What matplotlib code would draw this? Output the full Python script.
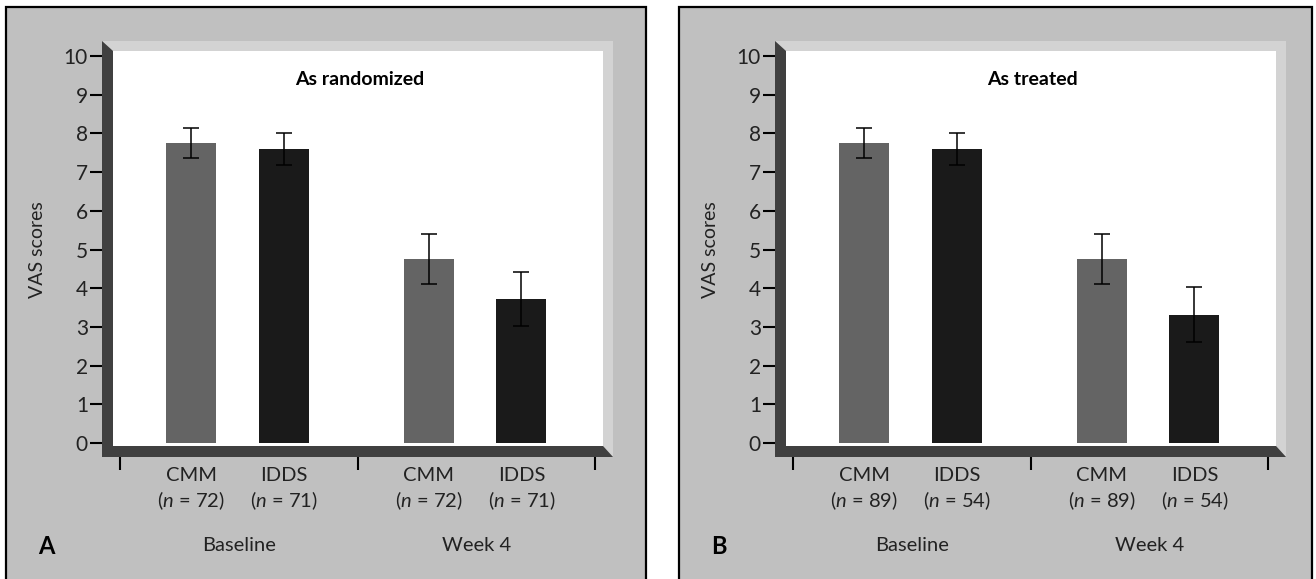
import matplotlib.pyplot as plt
from matplotlib.patches import Polygon, Rectangle

W, H = 1316, 579
DPI = 100

plt.rcParams["font.family"] = ["Lato", "DejaVu Sans"]
plt.rcParams["mathtext.fontset"] = "custom"
plt.rcParams["mathtext.rm"] = "Lato"
plt.rcParams["mathtext.it"] = "Lato:italic"

groups = ["Baseline", "Week 4"]
treatments = ["CMM", "IDDS"]
panel_letters = ["A", "B"]
panel_titles = ["As randomized", "As treated"]
n_per_arm = [[72, 71], [89, 54]]

# mean VAS score per time point (Baseline, Week 4)
randomized_cmm = [7.75, 4.75]
randomized_cmm_err = [0.38, 0.65]
randomized_idds = [7.6, 3.72]
randomized_idds_err = [0.42, 0.70]
treated_cmm = [7.75, 4.75]
treated_cmm_err = [0.38, 0.65]
treated_idds = [7.6, 3.32]
treated_idds_err = [0.42, 0.70]

yticks = list(range(0, 11))

CMM_COLOR = "#646464"
IDDS_COLOR = "#1a1a1a"
BG = "#c0c0c0"
LIGHT = "#d3d3d3"
DARK = "#404040"


def fig_xy(x, y):
    return (x / W, 1 - y / H)


def add_poly(fig, pts, color, dx):
    poly = Polygon([fig_xy(x + dx, y) for x, y in pts], closed=True,
                   transform=fig.transFigure, facecolor=color, edgecolor="none",
                   zorder=-1)
    fig.patches.append(poly)


def draw_panel(fig, dx, letter, title, cmm, cmm_err, idds, idds_err, ns):
    # panel frame
    fx0, fy0 = 6 + dx, 7
    fx1 = min(646 + dx, W - 4)
    frame = Rectangle(fig_xy(fx0, 600), (fx1 - fx0) / W, (600 - fy0) / H,
                      transform=fig.transFigure, facecolor=BG, edgecolor="black",
                      linewidth=1.6, zorder=-2)
    fig.patches.append(frame)

    # pseudo 3d box around the plot area
    add_poly(fig, [(102, 41), (613, 41), (613, 457), (603, 446), (603, 51), (113, 51)], LIGHT, dx)
    add_poly(fig, [(102, 41), (113, 51), (113, 446), (603, 446), (613, 457), (102, 457)], DARK, dx)
    add_poly(fig, [(113, 51), (603, 51), (603, 446), (113, 446)], "white", dx)

    left, bottom = fig_xy(120 + dx, 443)
    ax = fig.add_axes([left, bottom, 475 / W, 387 / H])
    ax.set_facecolor("none")
    ax.set_xlim(0, 2)
    ax.set_ylim(0, 10)

    base = [0, 1]
    offsets = [0.3, 0.69]
    width = 0.21
    ekw = dict(elinewidth=1.1, capthick=1.1, ecolor="black")
    ax.bar([b + offsets[0] for b in base], cmm, width, yerr=cmm_err, color=CMM_COLOR,
           capsize=5.8, error_kw=ekw, zorder=2)
    ax.bar([b + offsets[1] for b in base], idds, width, yerr=idds_err, color=IDDS_COLOR,
           capsize=5.8, error_kw=ekw, zorder=2)

    for side in ["top", "right"]:
        ax.spines[side].set_visible(False)
    ax.spines["left"].set_position(("outward", 18 * 72 / DPI))
    ax.spines["bottom"].set_position(("outward", 14 * 72 / DPI))
    ax.spines["left"].set_color("none")
    ax.spines["bottom"].set_color("none")

    ax.set_yticks(yticks)
    ax.tick_params(axis="y", length=12 * 72 / DPI, width=1.5, color="black",
                   labelsize=15, pad=1.5, labelcolor="#222222")

    ax.set_xticks([0, 1, 2])
    ax.set_xticklabels([])
    ax.tick_params(axis="x", which="major", length=13 * 72 / DPI, width=1.5, color="black")
    label_pos = [b + o for b in base for o in offsets]
    labels = [f"{t}\n($n$ = {n})" for _ in base for t, n in zip(treatments, ns)]
    ax.set_xticks(label_pos, minor=True)
    ax.set_xticklabels(labels, minor=True)
    ax.tick_params(axis="x", which="minor", length=0, labelsize=14.5, pad=7,
                   labelcolor="#222222")
    for lab in ax.get_xticklabels(minor=True):
        lab.set_linespacing(1.3)

    for b, g in zip(base, groups):
        ax.text(b + 0.5, -0.265, g, transform=ax.get_xaxis_transform(),
                ha="center", va="center", fontsize=14.5, color="#222222")

    ax.text(0.505, 0.938, title, transform=ax.transAxes, ha="center", va="center",
            fontsize=14, fontweight="bold")

    ax.set_ylabel("VAS scores", fontsize=14, color="#222222")
    ax.yaxis.set_label_coords(-0.155, 0.5)

    fig.text(*fig_xy(46 + dx, 546), letter, ha="center", va="center",
             fontsize=17, fontweight="bold")
    return ax


fig = plt.figure(figsize=(W / DPI, H / DPI), dpi=DPI, facecolor="white")

draw_panel(fig, 0, panel_letters[0], panel_titles[0], randomized_cmm, randomized_cmm_err,
           randomized_idds, randomized_idds_err, n_per_arm[0])
draw_panel(fig, 673, panel_letters[1], panel_titles[1], treated_cmm, treated_cmm_err,
           treated_idds, treated_idds_err, n_per_arm[1])

fig.savefig("out.png", dpi=DPI, facecolor="white")
